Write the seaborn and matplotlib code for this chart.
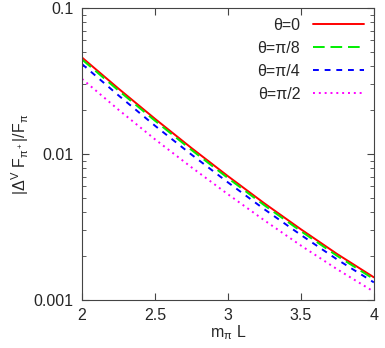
import numpy as np
import pandas as pd
import matplotlib
matplotlib.use('Agg')
import matplotlib.pyplot as plt
import seaborn as sns

# datos
mL = [2.0, 2.25, 2.5, 2.75, 3.0, 3.25, 3.5, 3.75, 4.0]
theta_0 = [0.0458, 0.02805, 0.01742, 0.01099, 0.00705, 0.00459, 0.00305, 0.00206, 0.00143]
theta_pi8 = [0.0444, 0.0272, 0.0169, 0.01066, 0.00684, 0.00445, 0.00296, 0.00200, 0.00139]
theta_pi4 = [0.0413, 0.0252, 0.01562, 0.00991, 0.00639, 0.00418, 0.00279, 0.00189, 0.00132]
theta_pi2 = [0.0327, 0.0201, 0.01261, 0.00811, 0.00530, 0.00351, 0.00236, 0.00162, 0.00114]
labels = ['θ=0', 'θ=π/8', 'θ=π/4', 'θ=π/2']

df = pd.DataFrame({'mL': mL, labels[0]: theta_0, labels[1]: theta_pi8,
                   labels[2]: theta_pi4, labels[3]: theta_pi2})
df = df.melt(id_vars='mL', var_name='theta', value_name='val')

sns.set_style('ticks')
plt.rcParams['font.family'] = ['Liberation Sans', 'DejaVu Sans']
plt.rcParams['mathtext.fontset'] = 'custom'
plt.rcParams['mathtext.rm'] = 'Liberation Sans'
plt.rcParams['mathtext.it'] = 'Liberation Sans'
plt.rcParams['mathtext.sf'] = 'Liberation Sans'

palette = {labels[0]: '#ff0000', labels[1]: '#00ee00', labels[2]: '#0000ff', labels[3]: '#ff00ff'}
dashes = {labels[0]: '', labels[1]: (6, 3), labels[2]: (3, 3), labels[3]: (1, 2)}

fs = 11.5
fig = plt.figure(figsize=(3.85, 3.48), dpi=100)
ax = fig.add_axes([0.213, 0.138, 0.758, 0.839])
sns.lineplot(data=df, x='mL', y='val', hue='theta', style='theta', palette=palette,
             dashes=dashes, linewidth=1.4, ax=ax)

ax.set_yscale('log')
ax.set_xlim(2, 4)
ax.set_ylim(0.001, 0.1)
ax.set_xticks([2, 2.5, 3, 3.5, 4])
ax.set_xticklabels(['2', '2.5', '3', '3.5', '4'])
ax.set_yticks([0.001, 0.01, 0.1])
ax.set_yticklabels(['0.001', '0.01', '0.1'])
ax.tick_params(which='both', direction='in', top=True, right=True, labelsize=fs, color='#444444')
ax.tick_params(which='major', length=5, pad=6)
ax.tick_params(which='minor', length=3)
ax.minorticks_off()
ax.yaxis.set_minor_locator(matplotlib.ticker.LogLocator(subs=np.arange(2, 10)))
ax.yaxis.set_minor_formatter(matplotlib.ticker.NullFormatter())
for s in ax.spines.values():
    s.set_color('#444444')

ax.set_xlabel(r'm$_\pi$ L', fontsize=fs, labelpad=0)
ax.set_ylabel(r'|$\Delta^V$ F$_{\pi^+}$|/F$_\pi$', fontsize=fs, labelpad=2)

h, l = ax.get_legend_handles_labels()
ax.legend(h, l, loc='upper right', frameon=False, markerfirst=False, fontsize=fs,
          handlelength=3.2, labelspacing=0.5, borderaxespad=0.2)

plt.savefig('out.png', dpi=100)
plt.close()
